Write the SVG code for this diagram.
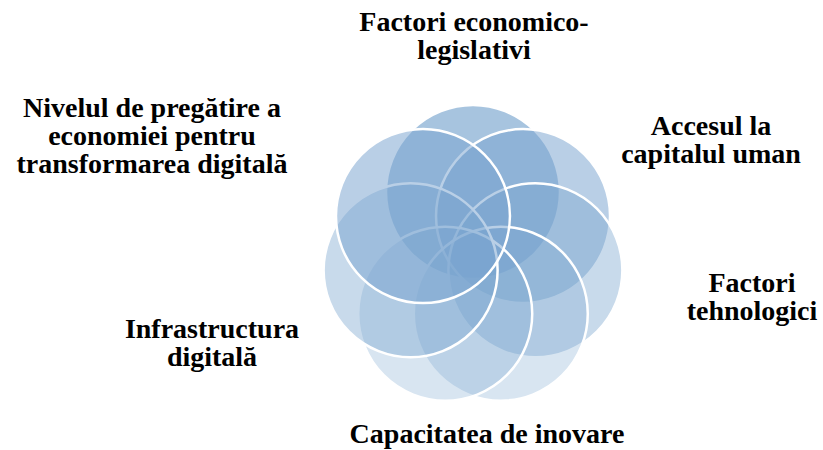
<svg xmlns="http://www.w3.org/2000/svg" width="823" height="450" viewBox="0 0 823 450">
<style>
.c{fill:#7AA5CF;stroke:#ffffff;stroke-width:2.5}
.t{font-family:"Liberation Serif","Times New Roman",serif;font-weight:bold;font-size:28px;fill:#000000;text-anchor:middle}
</style>
<rect width="823" height="450" fill="#ffffff"/>
<g id="node1">
<circle class="c" cx="473" cy="192" r="87" fill-opacity="0.66"/>
<text class="t" x="474" y="31">Factori economico-<tspan x="474" dy="28">legislativi</tspan></text>
</g>
<g id="node2">
<circle class="c" cx="523.04" cy="216.1" r="87" fill-opacity="0.53"/>
<text class="t" x="711" y="135">Accesul la<tspan x="711" dy="28">capitalul uman</tspan></text>
</g>
<g id="node3">
<circle class="c" cx="535.39" cy="270.24" r="87" fill-opacity="0.41"/>
<text class="t" x="752" y="292">Factori<tspan x="752" dy="28">tehnologici</tspan></text>
</g>
<g id="node4">
<circle class="c" cx="500.77" cy="313.66" r="87" fill-opacity="0.29"/>
<text class="t" x="487" y="443">Capacitatea de inovare</text>
</g>
<g id="node5">
<circle class="c" cx="445.23" cy="313.66" r="87" fill-opacity="0.29"/>
</g>
<g id="node6">
<circle class="c" cx="410.61" cy="270.24" r="87" fill-opacity="0.41"/>
<text class="t" x="212" y="338">Infrastructura<tspan x="212" dy="28">digitală</tspan></text>
</g>
<g id="node7">
<circle class="c" cx="422.96" cy="216.1" r="87" fill-opacity="0.53"/>
<text class="t" x="152" y="117">Nivelul de pregătire a<tspan x="152" dy="28">economiei pentru</tspan><tspan x="152" dy="28">transformarea digitală</tspan></text>
</g>
</svg>
